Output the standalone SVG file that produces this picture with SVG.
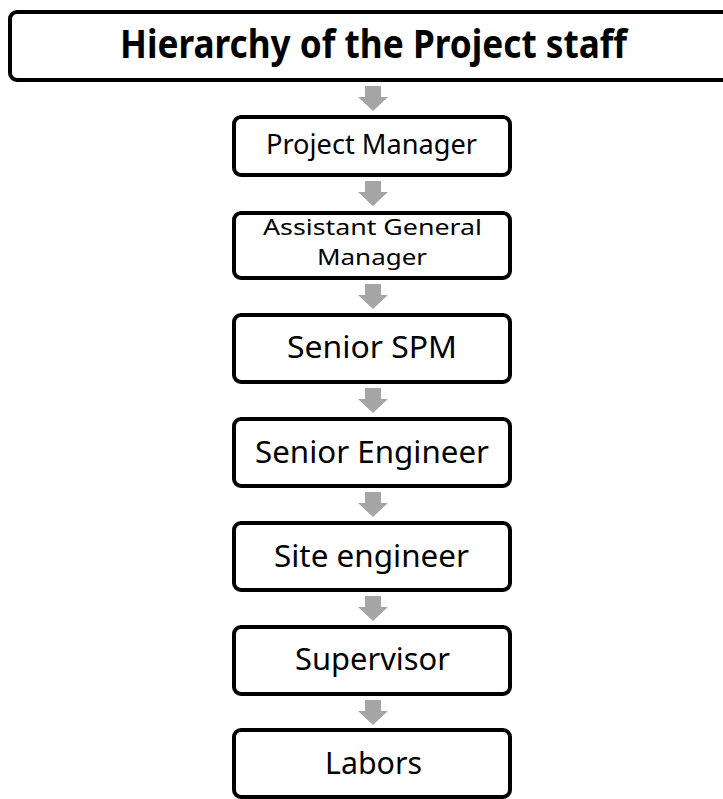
<svg xmlns="http://www.w3.org/2000/svg" width="723" height="799" viewBox="0 0 723 799">
  <defs>
    <style>
      .box { fill: #ffffff; stroke: #000000; stroke-width: 4; }
      .lbl { font-family: "Noto Sans", "Open Sans", sans-serif; fill: #000000; text-anchor: middle; }
      .sm { font-size: 27px; }
      .xs { font-size: 22px; }
      .md { font-size: 31px; }
      .title { font-family: "Noto Sans", "Open Sans", sans-serif; font-size: 40px; font-weight: bold; fill: #000000; text-anchor: middle; }
      .arrow { fill: #a5a5a5; }
    </style>
    <polygon id="darrow" class="arrow" points="-8,0 8,0 8,11 15,11 0,25 -15,11 -8,11"/>
  </defs>
  <rect width="723" height="799" fill="#ffffff"/>

  <g id="connectors">
    <use href="#darrow" x="373" y="86"/>
    <use href="#darrow" x="373" y="181"/>
    <use href="#darrow" x="373" y="284"/>
    <use href="#darrow" x="373" y="388"/>
    <use href="#darrow" x="373" y="492"/>
    <use href="#darrow" x="373" y="596"/>
    <use href="#darrow" x="373" y="700"/>
  </g>

  <g id="title">
    <rect class="box" x="10" y="12" width="722" height="68" rx="7"/>
    <text class="title" x="373.5" y="58" textLength="507" lengthAdjust="spacingAndGlyphs">Hierarchy of the Project staff</text>
  </g>

  <g id="project-manager">
    <rect class="box" x="234" y="117" width="276" height="58" rx="7"/>
    <text class="lbl sm" x="371.5" y="154" textLength="211" lengthAdjust="spacingAndGlyphs">Project Manager</text>
  </g>

  <g id="assistant-general-manager">
    <rect class="box" x="234" y="213" width="276" height="65" rx="7"/>
    <text class="lbl xs" x="372.5" y="235" textLength="219" lengthAdjust="spacingAndGlyphs">Assistant General</text>
    <text class="lbl xs" x="372" y="265" textLength="110" lengthAdjust="spacingAndGlyphs">Manager</text>
  </g>

  <g id="senior-spm">
    <rect class="box" x="234" y="315" width="276" height="67" rx="7"/>
    <text class="lbl md" x="372" y="358" textLength="170" lengthAdjust="spacingAndGlyphs">Senior SPM</text>
  </g>

  <g id="senior-engineer">
    <rect class="box" x="234" y="419" width="276" height="67" rx="7"/>
    <text class="lbl md" x="372" y="463" textLength="234" lengthAdjust="spacingAndGlyphs">Senior Engineer</text>
  </g>

  <g id="site-engineer">
    <rect class="box" x="234" y="523" width="276" height="67" rx="7"/>
    <text class="lbl md" x="371.5" y="567" textLength="195" lengthAdjust="spacingAndGlyphs">Site engineer</text>
  </g>

  <g id="supervisor">
    <rect class="box" x="234" y="627" width="276" height="67" rx="7"/>
    <text class="lbl md" x="372.5" y="670" textLength="155" lengthAdjust="spacingAndGlyphs">Supervisor</text>
  </g>

  <g id="labors">
    <rect class="box" x="234" y="730" width="276" height="67" rx="7"/>
    <text class="lbl md" x="373.5" y="774" textLength="97" lengthAdjust="spacingAndGlyphs">Labors</text>
  </g>
</svg>
